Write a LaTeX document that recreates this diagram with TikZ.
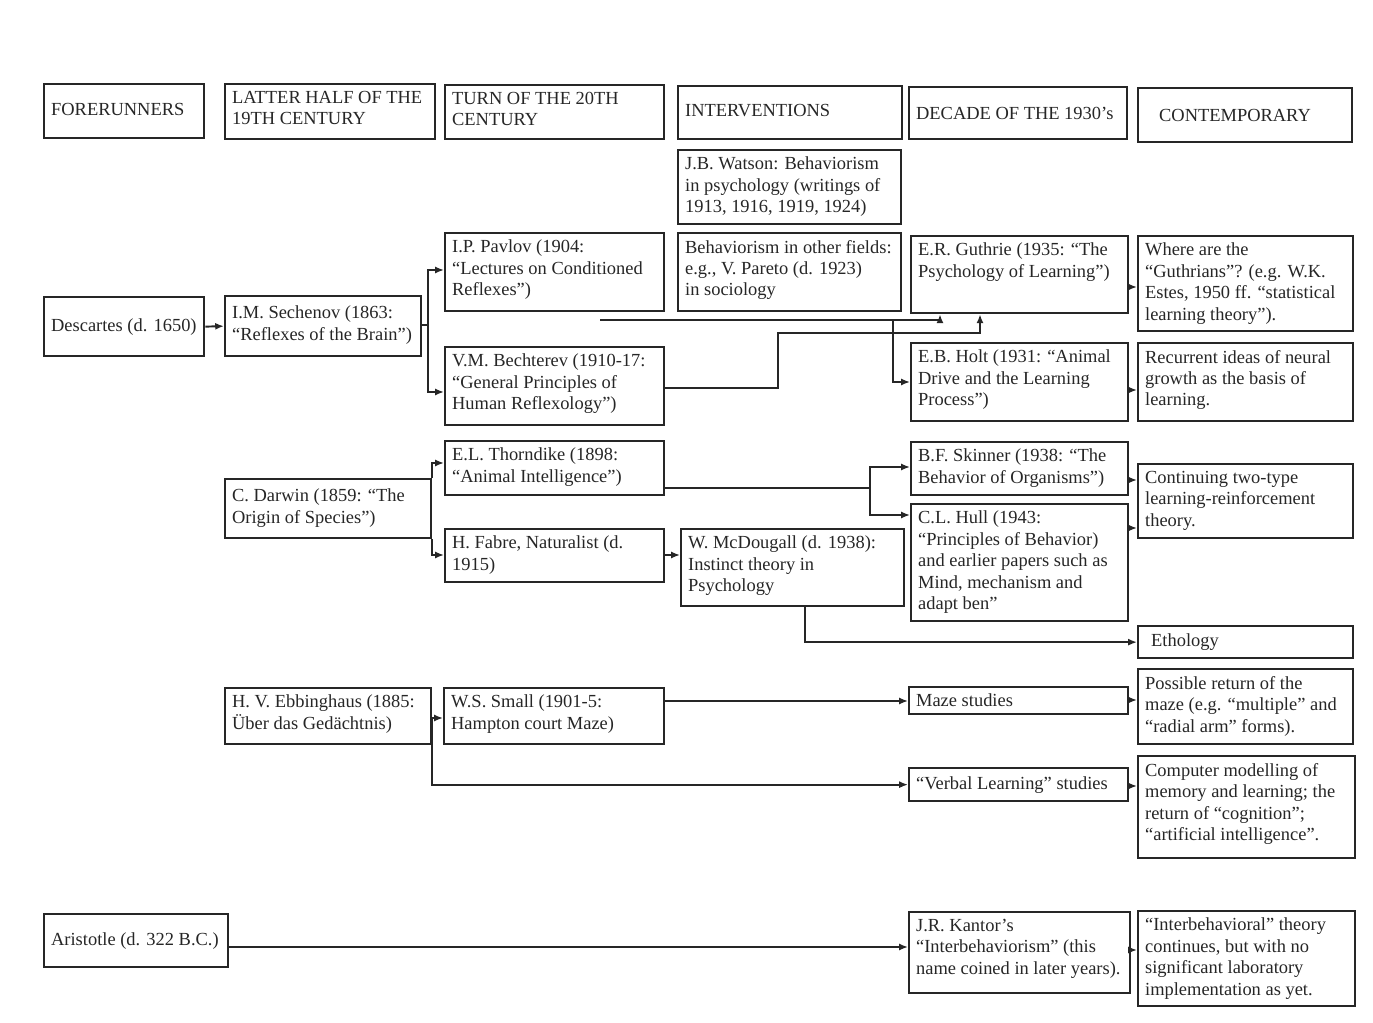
\documentclass[tikz,border=0pt]{standalone}
\usepackage{fontspec}
\setmainfont{Liberation Serif}
\usetikzlibrary{arrows.meta}

% one drawing unit = 0.02cm
\newlength\pxu
\setlength\pxu{0.02cm}
\definecolor{ink}{HTML}{262626}

\tikzset{
  box/.style={draw=ink, line width=1.3pt, anchor=north west, inner sep=0pt, text=ink},
  link/.style={draw=ink, line width=1.1pt},
  arr/.style={link, -{Latex[length=5pt,width=4pt]}},
}

% \bx[valign]{name}{x1}{y1}{x2}{y2}{text}
\newcommand\bx[7][t]{%
  \node[box] (#2) at (#3,#4) {\parbox[c][\dimexpr\pxu*(#6-#4)\relax][#1]{\dimexpr\pxu*(#5-#3)\relax}{%
    \fontsize{10.5}{12.2}\selectfont
    \ifx t#1\vspace*{7\pxu}\fi
    \raggedright\leftskip=7\pxu\relax #7}};}

\begin{document}
\begin{tikzpicture}[x=0.02cm, y=-0.02cm]
\useasboundingbox (0,0) rectangle (1373,1023);

% column headings
\bx[c]{fore}{43}{83}{203}{137}{FORERUNNERS\vspace*{4\pxu}}
\bx{latter}{224}{83}{434}{138}{LATTER HALF OF THE\\19TH CENTURY}
\bx{turn}{444}{84}{663}{138}{TURN OF THE 20TH\\CENTURY}
\bx[c]{interv}{677}{85}{901}{138}{INTERVENTIONS\vspace*{4\pxu}}
\bx[c]{decade}{908}{86}{1126}{138}{DECADE OF THE 1930’s}
\bx[c]{contemp}{1137}{87}{1351}{141}{\hspace*{14\pxu}CONTEMPORARY}

% upper rows
\bx{watson}{677}{149}{900}{223}{J.B. Watson: Behaviorism\\in psychology (writings of\\1913, 1916, 1919, 1924)}
\bx{pavlov}{444}{232}{663}{310}{I.P. Pavlov (1904:\\“Lectures on Conditioned\\Reflexes”)}
\bx{other}{677}{232}{900}{310}{Behaviorism in other fields:\\e.g., V. Pareto (d. 1923)\\in sociology}
\bx{guthrie}{910}{235}{1127}{312}{E.R. Guthrie (1935: “The\\Psychology of Learning”)}
\bx{guthrians}{1137}{235}{1352}{330}{Where are the\\“Guthrians”? (e.g. W.K.\\Estes, 1950 ff. “statistical\\learning theory”).}
\bx[c]{desc}{43}{296}{203}{355}{Descartes (d. 1650)}
\bx{sech}{224}{295}{420}{355}{\vspace*{3\pxu}I.M. Sechenov (1863:\\“Reflexes of the Brain”)}
\bx{bech}{444}{346}{663}{424}{V.M. Bechterev (1910-17:\\“General Principles of\\Human Reflexology”)}
\bx{holt}{910}{342}{1127}{420}{E.B. Holt (1931: “Animal\\Drive and the Learning\\Process”)}
\bx{recur}{1137}{342}{1352}{420}{Recurrent ideas of neural\\growth as the basis of\\learning.}

% middle rows
\bx{thorn}{444}{440}{663}{494}{E.L. Thorndike (1898:\\“Animal Intelligence”)}
\bx{darwin}{224}{478}{430}{537}{\vspace*{3\pxu}C. Darwin (1859: “The\\Origin of Species”)}
\bx{skinner}{910}{441}{1127}{494}{B.F. Skinner (1938: “The\\Behavior of Organisms”)}
\bx{contin}{1137}{463}{1352}{537}{Continuing two-type\\learning-reinforcement\\theory.}
\bx{fabre}{444}{528}{663}{581}{H. Fabre, Naturalist (d.\\1915)}
\bx{mcd}{680}{528}{903}{605}{W. McDougall (d. 1938):\\Instinct theory in\\Psychology}
\bx{hull}{910}{503}{1127}{620}{C.L. Hull (1943:\\“Principles of Behavior)\\and earlier papers such as\\Mind, mechanism and\\adapt ben”}
\bx[c]{ethol}{1137}{625}{1352}{657}{\hspace*{6\pxu}Ethology}

% lower rows
\bx{ebb}{224}{687}{430}{743}{H. V. Ebbinghaus (1885:\\Über das Gedächtnis)}
\bx{small}{443}{687}{663}{743}{W.S. Small (1901-5:\\Hampton court Maze)}
\bx[c]{maze}{908}{686}{1127}{713}{Maze studies}
\bx{possible}{1137}{668}{1352}{743}{Possible return of the\\maze (e.g. “multiple” and\\“radial arm” forms).}
\bx[c]{verbal}{908}{767}{1127}{800}{“Verbal Learning” studies}
\bx{computer}{1137}{755}{1354}{857}{Computer modelling of\\memory and learning; the\\return of “cognition”;\\“artificial intelligence”.}
\bx[c]{arist}{43}{913}{227}{966}{Aristotle (d. 322 B.C.)}
\bx{kantor}{908}{911}{1129}{992}{J.R. Kantor’s\\“Interbehaviorism” (this\\name coined in later years).}
\bx{interb}{1137}{910}{1354}{1005}{“Interbehavioral” theory\\continues, but with no\\significant laboratory\\implementation as yet.}

% junction points
\coordinate (sj) at (428,325);
\coordinate (tj) at (870,488);
\coordinate (pv) at (600,320);
\coordinate (hj) at (893,320);
\coordinate (ej) at (432,718);

% connectors
\draw[arr] (desc.east) -- (sech.west);
\draw[link] (sech.east |- sj) -- (sj);
\draw[arr] (sj) |- (pavlov.west |- 0,270);
\draw[arr] (sj) |- (bech.west |- 0,392);

\draw[arr] (darwin.north east) |- (thorn.west |- 0,463);
\draw[arr] (darwin.south east) |- (fabre.west |- 0,555);

\draw[link] (thorn.east |- tj) -- (tj);
\draw[arr] (tj) |- (skinner.west |- 0,467);
\draw[arr] (tj) |- (hull.west |- 0,515);

\draw[arr] (fabre.east |- 0,555) -- (mcd.west |- 0,555);
\draw[arr] (mcd.south -| 805,0) |- (ethol.west);

\draw[arr] (pv) -| (guthrie.south -| 940,0);
\draw[arr] (hj) |- (holt.west |- 0,382);
\draw[arr] (bech.east |- 0,388) -| (778,333) -| (guthrie.south -| 980,0);

\draw[arr] (guthrie.east |- 0,287) -- (guthrians.west |- 0,287);
\draw[arr] (holt.east |- 0,390) -- (recur.west |- 0,390);
\draw[arr] (skinner.east |- 0,480) -- (contin.west |- 0,480);
\draw[arr] (hull.east |- 0,528) -- (contin.west |- 0,528);

\draw[arr] (ebb.east |- ej) -- (small.west |- ej);
\draw[arr] (ej) |- (verbal.west);
\draw[arr] (small.east |- 0,701) -- (maze.west |- 0,701);
\draw[arr] (maze.east |- 0,700) -- (possible.west |- 0,700);
\draw[arr] (verbal.east |- 0,786) -- (computer.west |- 0,786);

\draw[arr] (arist.east |- 0,947) -- (kantor.west |- 0,947);
\draw[arr] (kantor.east |- 0,950) -- (interb.west |- 0,950);
\end{tikzpicture}
\end{document}
